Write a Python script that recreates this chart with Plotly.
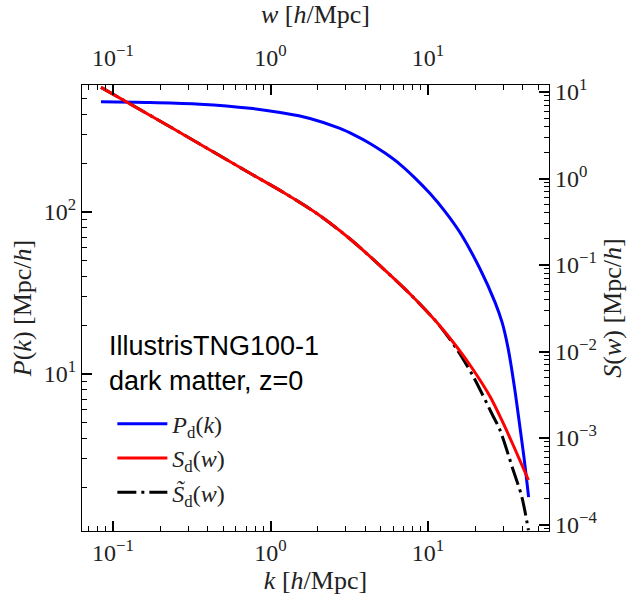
import numpy as np
import plotly.graph_objects as go

# ---- data ----
k_pd = [0.0839, 0.172, 0.357, 0.741, 1.15, 1.78, 2.76, 3.44, 4.28, 5.33, 6.64, 8.27,
        10.3, 12.8, 16.0, 21.4, 26.6, 29.5, 32.2, 35.2, 37.8, 40.7, 43.5]
P_d = [479, 474, 463, 437, 411, 378, 328, 297, 265, 231, 197, 162,
       130, 101, 74.4, 44.5, 27.8, 20.9, 14.5, 8.55, 5.20, 3.03, 1.74]

w_sd = [0.0839, 0.230, 0.741, 1.21, 1.96, 3.20, 4.29, 7.69, 11.4, 15.2, 19.4,
        24.8, 29.4, 34.7, 43.4]
S_d = [11.3, 3.97, 1.15, 0.689, 0.396, 0.200, 0.125, 0.0462, 0.0216, 0.01135,
       0.00611, 0.0030, 0.00161, 0.000830, 0.000327]

w_st = [0.0839, 0.230, 0.741, 1.21, 1.96, 3.20, 4.29, 7.69, 11.4, 15.2, 19.4,
        26.0, 28.6, 34.7, 39.4, 43.4]
S_t = [11.3, 3.97, 1.15, 0.689, 0.396, 0.200, 0.125, 0.0462, 0.0216, 0.0107,
       0.00512, 0.00176, 0.00124, 0.000427, 0.000209, 0.000086]

x_major = [0.1, 1, 10]
x_major_text = ["10<sup>−1</sup>", "10<sup>0</sup>", "10<sup>1</sup>"]
yl_major = [10, 100]
yl_major_text = ["10<sup>1</sup>", "10<sup>2</sup>"]
yr_major = [1e-4, 1e-3, 1e-2, 1e-1, 1, 10]
yr_major_text = ["10<sup>−4</sup>", "10<sup>−3</sup>", "10<sup>−2</sup>",
                 "10<sup>−1</sup>", "10<sup>0</sup>", "10<sup>1</sup>"]

def minors(lo, hi):
    out = []
    for e in range(lo, hi + 1):
        for m in range(2, 10):
            out.append(m * 10.0 ** e)
    return out

SERIF = "Liberation Serif"
SANS = "Liberation Sans"

fig = go.Figure()
fig.add_trace(go.Scatter(x=k_pd, y=P_d, mode="lines", name="<i>P</i><sub>d</sub>(<i>k</i>)",
                         line=dict(color="#0000ff", width=3, shape="spline", smoothing=1.0),
                         legendrank=1))
fig.add_trace(go.Scatter(x=w_st, y=S_t, mode="lines", name="<i>S\u0303</i><sub>d</sub>(<i>w</i>)",
                         line=dict(color="black", width=3, dash="19px,5px,3px,5px",
                                   shape="spline", smoothing=0.8),
                         xaxis="x2", yaxis="y2", legendrank=3))
fig.add_trace(go.Scatter(x=w_sd, y=S_d, mode="lines", name="<i>S</i><sub>d</sub>(<i>w</i>)",
                         line=dict(color="#ff0000", width=3, shape="spline", smoothing=0.8),
                         xaxis="x2", yaxis="y2", legendrank=2))

xrange = [-1.197, 1.768]
common = dict(showline=True, linecolor="black", linewidth=1.3, showgrid=False,
              zeroline=False, ticks="inside", ticklen=10, tickwidth=1.5,
              tickcolor="black", tickfont=dict(family=SERIF, size=24, color="#222"))
mnr = dict(ticks="inside", ticklen=5, tickwidth=1.2, tickcolor="black")
tfont = dict(family=SERIF, size=26, color="#222")

fig.update_layout(
    width=633, height=601,
    margin=dict(l=82, r=84, t=85, b=70),
    paper_bgcolor="white", plot_bgcolor="white",
    xaxis=dict(type="log", range=xrange, tickvals=x_major, ticktext=x_major_text,
               minor=dict(tickvals=minors(-2, 1), **mnr),
               title=dict(text="<i>k</i> [<i>h</i>/Mpc]", font=tfont, standoff=4),
               **common),
    xaxis2=dict(type="log", range=xrange, overlaying="x", side="top", anchor="y",
                tickvals=x_major, ticktext=x_major_text, ticklabelstandoff=8,
                minor=dict(tickvals=minors(-2, 1), **mnr),
                title=dict(text="<i>w</i> [<i>h</i>/Mpc]", font=tfont, standoff=10),
                **common),
    yaxis=dict(type="log", range=[0.031, 2.784], tickvals=yl_major, ticktext=yl_major_text,
               minor=dict(tickvals=minors(0, 2), **mnr),
               title=dict(text="<i>P</i>(<i>k</i>) [Mpc/<i>h</i>]", font=tfont, standoff=4),
               **common),
    yaxis2=dict(type="log", range=[-4.075, 1.081], overlaying="y", side="right", anchor="x",
                tickvals=yr_major, ticktext=yr_major_text,
                minor=dict(tickvals=minors(-5, 1), **mnr),
                title=dict(text="<i>S</i>(<i>w</i>) [Mpc/<i>h</i>]", font=tfont, standoff=6),
                **common),
    legend=dict(x=0.065, y=0.29, xanchor="left", yanchor="top", bgcolor="rgba(255,255,255,0)",
                font=dict(family=SERIF, size=24, color="#222"), itemwidth=50),
    annotations=[dict(xref="paper", yref="paper", x=0.053, y=0.375, xanchor="left", yanchor="middle",
                      align="left", showarrow=False,
                      text="IllustrisTNG100-1<br>dark matter, z=0",
                      font=dict(family=SANS, size=27, color="black"))],
)

fig.write_html("out.html")
